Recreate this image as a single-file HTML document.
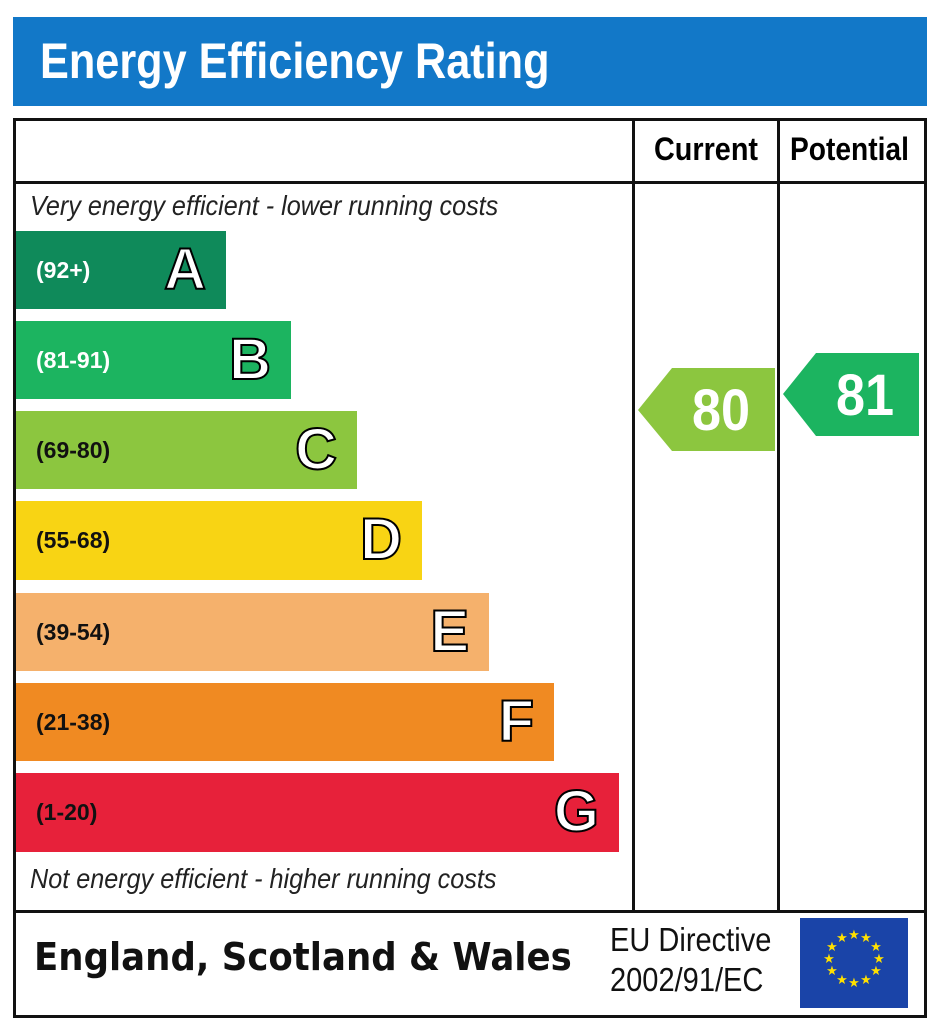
<!DOCTYPE html>
<html><head><meta charset="utf-8"><style>
body{margin:0;background:#fff;width:944px;height:1024px;overflow:hidden;position:relative;font-family:"Liberation Sans",Arial,sans-serif}
.a{position:absolute}
.bar{position:absolute;left:16px;height:78px}
.rng{position:absolute;left:20px;top:0;line-height:78px;font-weight:bold;font-size:23px}
.let{position:absolute;right:20px;top:0;line-height:78px;font-weight:bold;font-size:58px;color:#fff;-webkit-text-stroke:2px #000}
</style></head><body>
<div class="a" style="left:13px;top:17px;width:914px;height:89px;background:#1278c8"></div>
<div class="a" style="left:40px;top:32px;color:#fff;font-weight:bold;font-size:50px;transform:scaleX(0.865);transform-origin:left">Energy Efficiency Rating</div>
<div class="a" style="left:13px;top:118px;width:908px;height:894px;border:3px solid #111"></div>
<div class="a" style="left:13px;top:181px;width:912px;height:3px;background:#111"></div>
<div class="a" style="left:13px;top:910px;width:912px;height:3px;background:#111"></div>
<div class="a" style="left:632px;top:118px;width:3px;height:794px;background:#111"></div>
<div class="a" style="left:777px;top:118px;width:3px;height:794px;background:#111"></div>
<div class="a" style="left:654px;top:131px;font-weight:bold;font-size:32px;transform:scaleX(0.9);transform-origin:left">Current</div>
<div class="a" style="left:790px;top:131px;font-weight:bold;font-size:32px;transform:scaleX(0.88);transform-origin:left">Potential</div>
<div class="a" style="left:30px;top:190px;font-style:italic;font-size:28px;color:#222;transform:scaleX(0.9);transform-origin:left">Very energy efficient - lower running costs</div>
<div class="a" style="left:30px;top:863px;font-style:italic;font-size:28px;color:#222;transform:scaleX(0.9);transform-origin:left">Not energy efficient - higher running costs</div>
<div class="bar" style="top:231px;width:210px;background:#0f8a5a"><span class="rng" style="color:#fff">(92+)</span><span class="let">A</span></div>
<div class="bar" style="top:321px;width:275px;background:#1cb460"><span class="rng" style="color:#fff">(81-91)</span><span class="let">B</span></div>
<div class="bar" style="top:411px;width:341px;background:#8cc63f"><span class="rng" style="color:#111">(69-80)</span><span class="let">C</span></div>
<div class="bar" style="top:501px;width:406px;height:79px;background:#f8d414"><span class="rng" style="color:#111">(55-68)</span><span class="let">D</span></div>
<div class="bar" style="top:593px;width:473px;background:#f5b16c"><span class="rng" style="color:#111">(39-54)</span><span class="let">E</span></div>
<div class="bar" style="top:683px;width:538px;background:#f08a22"><span class="rng" style="color:#111">(21-38)</span><span class="let">F</span></div>
<div class="bar" style="top:773px;width:603px;height:79px;background:#e7213a"><span class="rng" style="color:#111">(1-20)</span><span class="let">G</span></div>
<svg class="a" style="left:0;top:0" width="944" height="1024">
<polygon points="638,410 672,368 775,368 775,451 672,451" fill="#8cc63f"/>
<polygon points="783,394 816,353 919,353 919,436 816,436" fill="#1cb460"/>
<text x="721" y="430" font-family="Liberation Sans" font-weight="bold" font-size="58" fill="#fff" text-anchor="middle" transform="translate(721 0) scale(0.9 1) translate(-721 0)">80</text>
<text x="865" y="415" font-family="Liberation Sans" font-weight="bold" font-size="58" fill="#fff" text-anchor="middle" transform="translate(865 0) scale(0.9 1) translate(-865 0)">81</text>
<rect x="800" y="918" width="108" height="90" fill="#1a44a8"/>
<g fill="#ffe000" font-size="13" text-anchor="middle" font-family="DejaVu Sans">
<text x="854" y="939">★</text><text x="866" y="942">★</text><text x="876" y="951">★</text><text x="879" y="963">★</text><text x="876" y="975">★</text><text x="866" y="984">★</text><text x="854" y="987">★</text><text x="842" y="984">★</text><text x="832" y="975">★</text><text x="829" y="963">★</text><text x="832" y="951">★</text><text x="842" y="942">★</text>
</g>
</svg>
<div class="a" style="left:34px;top:935px;font-family:'DejaVu Sans',sans-serif;font-weight:bold;font-size:38px;color:#111;transform:scaleX(0.935);transform-origin:left">England, Scotland &amp; Wales</div>
<div class="a" style="left:610px;top:920px;font-size:33px;line-height:40px;color:#111;transform:scaleX(0.88);transform-origin:left">EU Directive<br>2002/91/EC</div>
</body></html>
